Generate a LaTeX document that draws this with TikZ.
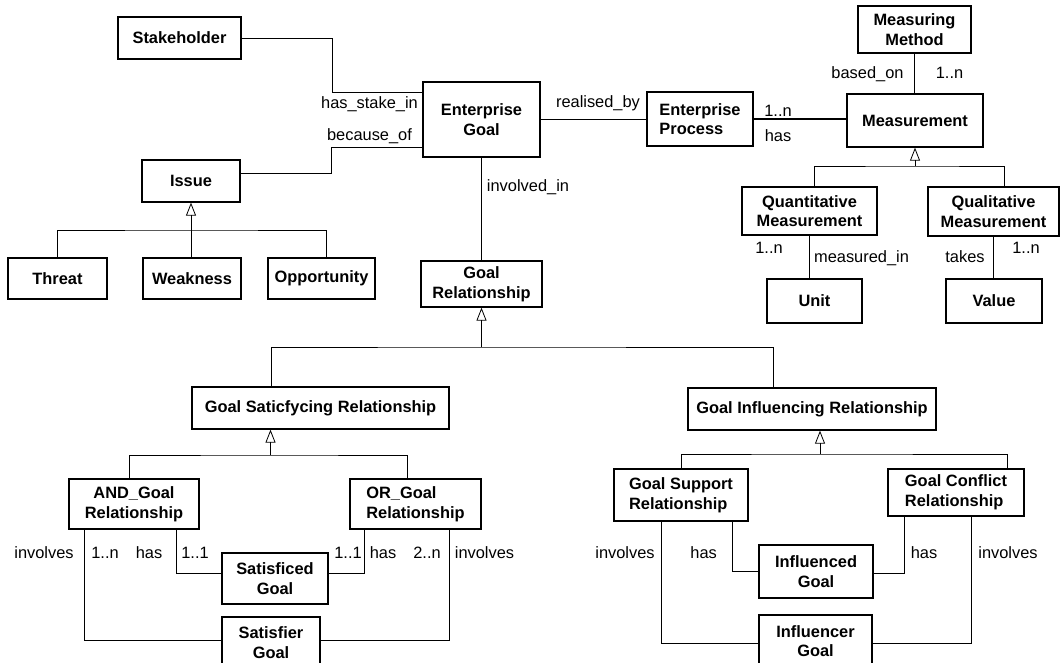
\documentclass[tikz,border=0pt]{standalone}
\usepackage{fontspec}
\setmainfont{Liberation Sans}
\usetikzlibrary{arrows.meta}
\tikzset{
  box/.style={draw, line width=1.3pt, rectangle, inner sep=0pt, align=center,
    font=\bfseries\fontsize{16.4}{19.7}\selectfont},
  lab/.style={anchor=base, inner sep=0pt, font=\fontsize{16.4}{19.7}\selectfont},
  ln/.style={line width=0.8pt},
  thk/.style={line width=1.5pt},
  gen/.style={line width=0.8pt, -{Triangle[open,length=13pt,width=10pt,line width=0.8pt]}},
}
\newcommand{\umlbox}[7][]{\node[box,#1,minimum width={(#5-#3)*1pt},minimum height={(#6-#4)*1pt}] (#2) at ({(#3+#5)/2},{(#4+#6)/2}) {#7};}
\begin{document}
\begin{tikzpicture}[x=1pt,y=-1pt]
\useasboundingbox (0,0) rectangle (1060,663);
\clip (0,0) rectangle (1060,663);
% boxes
\umlbox{sh}{118}{17}{241}{59}{Stakeholder}
\umlbox{is}{142}{160}{240}{202}{Issue}
\umlbox{th}{8}{258}{107}{299}{Threat}
\umlbox{wk}{143}{258}{241}{299}{Weakness}
\umlbox{op}{268}{258}{375}{299}{Opportunity}
\umlbox{eg}{423}{82}{540}{157}{Enterprise\\Goal}
\umlbox[align=left]{ep}{647}{92}{753}{146}{Enterprise\\Process}
\umlbox{mm}{858}{6}{971}{53}{Measuring\\Method}
\umlbox{ms}{847}{94}{983}{147}{Measurement}
\umlbox{qn}{742}{187}{877}{235}{Quantitative\\Measurement}
\umlbox{ql}{928}{187}{1059}{236}{Qualitative\\Measurement}
\umlbox{un}{767}{279}{862}{323}{Unit}
\umlbox{va}{946}{279}{1042}{323}{Value}
\umlbox{gr}{421}{261}{542}{307}{Goal\\Relationship}
\umlbox{gsr}{192}{387}{449}{429}{Goal Saticfycing Relationship}
\umlbox{gir}{688}{388}{936}{430}{Goal Influencing Relationship}
\umlbox{and}{69}{479}{199}{529}{AND\_Goal\\Relationship}
\umlbox[align=left]{or}{350}{479}{481}{529}{OR\_Goal\\Relationship}
\umlbox{sfd}{222}{553}{328}{604}{Satisficed\\Goal}
\umlbox{sfr}{222}{617}{320}{668}{Satisfier\\Goal}
\umlbox[align=left]{gsp}{614}{469}{748}{521}{Goal Support\\Relationship}
\umlbox[align=left]{gcf}{888}{469}{1024}{516}{Goal Conflict\\Relationship}
\umlbox{ifd}{759}{545}{873}{598}{Influenced\\Goal}
\umlbox{ifr}{759}{615}{872}{667}{Influencer\\Goal}
% associations
\draw[ln] (sh.east) -| (332,92) -- (332,92 -| eg.west);
\draw[ln] ([yshift=8pt]is.east) -| (331,147) -- (331,147 -| eg.west);
\draw[thk] (eg.east) -- (eg.east -| ep.west);
\draw[thk] (ep.east) -- (ep.east -| ms.west);
\draw[thk] (mm.south) -- (mm.south |- ms.north);
\draw[thk] (eg.south) -- (eg.south |- gr.north);
\draw[ln] (qn.south) -- (qn.south |- un.north);
\draw[thk] (ql.south) -- (ql.south |- va.north);
% generalisations
\coordinate (ji) at (is.south |- 0,230);
\draw[gen] (ji) -- (is.south);
\draw[ln] (th.north) |- (ji) -| ([xshift=4.5pt]op.north);
\draw[ln] (wk.north -| ji) -- (ji);
\coordinate (jm) at (ms.south |- 0,166);
\draw[gen] (jm) -- (ms.south);
\draw[ln] ([xshift=4.5pt]qn.north) |- (jm) -| ([xshift=10.5pt]ql.north);
\coordinate (jg) at (gr.south |- 0,347);
\draw[gen] (jg) -- (gr.south);
\draw[ln] ([xshift=-49.5pt]gsr.north) |- (jg) -| ([xshift=-39pt]gir.north);
\path ([xshift=-50pt]gsr.south) coordinate (gs0);
\coordinate (js) at (gs0 |- 0,455);
\draw[gen] (js) -- (gs0);
\draw[ln] ([xshift=-4.5pt]and.north) |- (js) -| ([xshift=-8pt]or.north);
\path ([xshift=8pt]gir.south) coordinate (gi0);
\coordinate (jf) at (gi0 |- 0,454);
\draw[gen] (jf) -- (gi0);
\draw[ln] (gsp.north) |- (jf) -| ([xshift=51pt]gcf.north);
% bottom associations
\draw[ln] ([xshift=-50pt]and.south) |- ([yshift=2.5pt]sfr.west);
\draw[ln] ([xshift=42pt]and.south) |- ([yshift=5.5pt]sfd.west);
\draw[ln] ([xshift=-51pt]or.south) |- ([yshift=5.5pt]sfd.east);
\draw[ln] ([xshift=34pt]or.south) |- ([yshift=2.5pt]sfr.east);
\draw[ln] ([xshift=-20pt]gsp.south) |- ([yshift=-2pt]ifr.west);
\draw[ln] ([xshift=51pt]gsp.south) |- (ifd.west);
\draw[ln] ([xshift=-51.4pt]gcf.south) |- ([yshift=-2pt]ifd.east);
\draw[ln] ([xshift=15pt]gcf.south) |- ([yshift=-2pt]ifr.east);
% labels
\node[lab] (l1) at (369.5,109) {has\_stake\_in};
\node[lab] (l2) at (369.5,141) {because\_of};
\node[lab] (l3) at (598,108) {realised\_by};
\node[lab] (l4) at (528,192) {involved\_in};
\node[lab] (l5) at (778,117) {1..n};
\node[lab] (l6) at (778,142) {has};
\node[lab] (l7) at (867.5,79) {based\_on};
\node[lab] (l8) at (949.5,79) {1..n};
\node[lab] (l9) at (769,254) {1..n};
\node[lab] (l10) at (861.5,262) {measured\_in};
\node[lab] (l11) at (965,262) {takes};
\node[lab] (l12) at (1026,254) {1..n};
\node[lab] (l13) at (44,558) {involves};
\node[lab] (l14) at (105,558) {1..n};
\node[lab] (l15) at (149,558) {has};
\node[lab] (l16) at (195,558) {1..1};
\node[lab] (l17) at (348,558) {1..1};
\node[lab] (l18) at (383,558) {has};
\node[lab] (l19) at (427,558) {2..n};
\node[lab] (l20) at (484.5,558) {involves};
\node[lab] (l21) at (625,558) {involves};
\node[lab] (l22) at (703.6,558) {has};
\node[lab] (l23) at (924,558) {has};
\node[lab] (l24) at (1008,558) {involves};
\end{tikzpicture}
\end{document}
